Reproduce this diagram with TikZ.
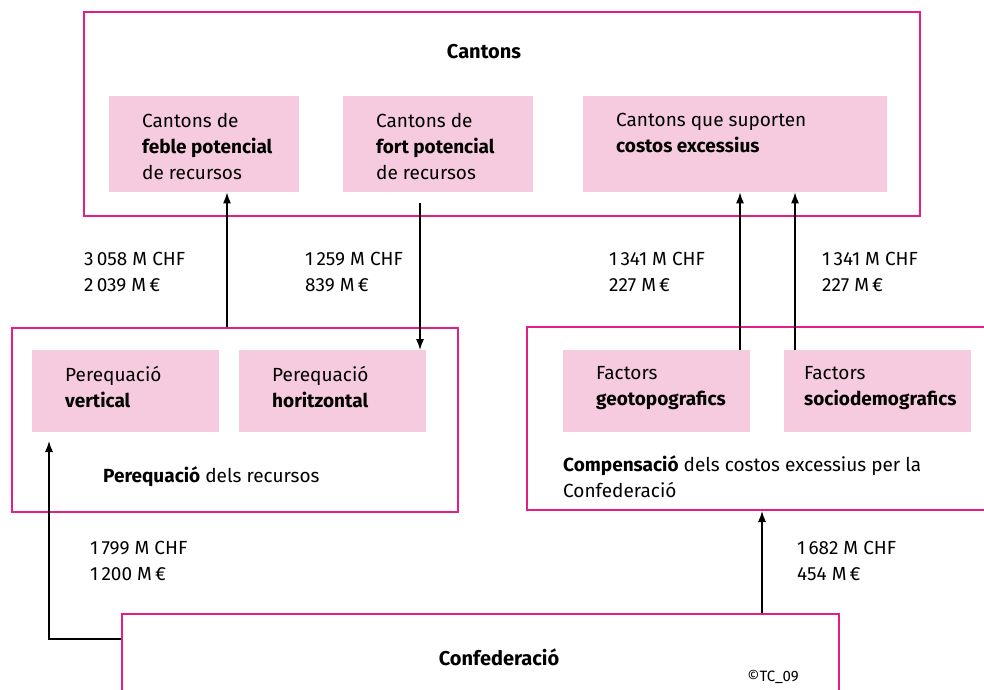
\documentclass[tikz,border=0pt]{standalone}
\usepackage{fontspec}
\setmainfont{Fira Sans}
\usetikzlibrary{arrows.meta}
\definecolor{rim}{RGB}{228,30,135}
\definecolor{rosa}{RGB}{247,203,223}
\tikzset{
  frame/.style={draw=rim,line width=2pt,anchor=north west,inner sep=0pt},
  tint/.style={fill=rosa,anchor=north west,inner sep=0pt},
  txt/.style={anchor=north west,align=left,inner sep=0pt,font=\fontsize{19}{26}\selectfont},
  flow/.style={-{Latex[length=11pt,width=8pt]},line width=1.2pt},
}
\begin{document}
\begin{tikzpicture}[x=1pt,y=-1pt]
  \useasboundingbox (0,0) rectangle (984,689);
  \clip (0,0) rectangle (984,689);
  % frames
  \node[frame,minimum width=836pt,minimum height=204pt] (cantons) at (83,11) {};
  \node[frame,minimum width=446pt,minimum height=184pt] (perequacio) at (11,327) {};
  \node[frame,minimum width=480pt,minimum height=183pt] (compensacio) at (526,326) {};
  \node[frame,minimum width=717pt,minimum height=100pt] (confed) at (121,613) {};
  % pink boxes
  \node[tint,minimum width=190pt,minimum height=96pt] (feble) at (109,96) {};
  \node[tint,minimum width=190pt,minimum height=96pt] (fort) at (343,96) {};
  \node[tint,minimum width=304pt,minimum height=96pt] (costos) at (583,96) {};
  \node[tint,minimum width=187pt,minimum height=82pt] (vertical) at (32,350) {};
  \node[tint,minimum width=187pt,minimum height=82pt] (horitz) at (239,350) {};
  \node[tint,minimum width=187pt,minimum height=82pt] (geo) at (563,350) {};
  \node[tint,minimum width=187pt,minimum height=82pt] (socio) at (784,350) {};
  % texts
  \node[font=\fontsize{20}{26}\selectfont\bfseries] (tcantons) at (484,52) {Cantons};
  \node[txt] (tfeble) at (142,113) {Cantons de\\\textbf{feble potencial}\\de recursos};
  \node[txt] (tfort) at (376,113) {Cantons de\\\textbf{fort potencial}\\de recursos};
  \node[txt] (tcostos) at (616,113) {Cantons que suporten\\\textbf{costos excessius}};
  \node[txt] (tvertical) at (65,366) {Perequació\\\textbf{vertical}};
  \node[txt] (thoritz) at (272,366) {Perequació\\\textbf{horitzontal}};
  \node[txt] (tgeo) at (596,366) {Factors\\\textbf{geotopografics}};
  \node[txt] (tsocio) at (804,366) {Factors\\\textbf{sociodemografics}};
  \node[txt] (trecursos) at (103,466) {\textbf{Perequació} dels recursos};
  \node[txt] (tcomp) at (563,455) {\textbf{Compensació} dels costos excessius per la\\Confederació};
  \node[font=\fontsize{20}{26}\selectfont\bfseries] (tconfed) at (499,657) {Confederació};
  \node[font=\fontsize{15}{18}\selectfont] (tcopy) at (773,677) {\textcopyright TC\_09};
  % amounts
  \node[txt] (m1) at (84,252) {3\,058 M CHF\\2\,039 M\,€};
  \node[txt] (m2) at (305,252) {1\,259 M CHF\\839 M\,€};
  \node[txt] (m3) at (609,252) {1\,341 M CHF\\227 M\,€};
  \node[txt] (m4) at (822,252) {1\,341 M CHF\\227 M\,€};
  \node[txt] (m5) at (90,541) {1\,799 M CHF\\1\,200 M\,€};
  \node[txt] (m6) at (797,541) {1\,682 M CHF\\454 M\,€};
  % connectors
  \coordinate (a1) at (227,0);
  \coordinate (a2) at (420,203);
  \coordinate (a3) at (740,0);
  \coordinate (a4) at (795,0);
  \coordinate (k5) at (121,639);
  \coordinate (a5) at (49,441);
  \coordinate (a6) at (762,511);
  \draw[flow] (perequacio.north -| a1) -- (feble.south -| a1);
  \draw[flow] (a2) -- (horitz.north -| a2);
  \draw[flow] (geo.north -| a3) -- (costos.south -| a3);
  \draw[flow] (socio.north -| a4) -- (costos.south -| a4);
  \draw[flow] (k5) -| (a5);
  \draw[flow] (confed.north -| a6) -- (a6);
\end{tikzpicture}
\end{document}
